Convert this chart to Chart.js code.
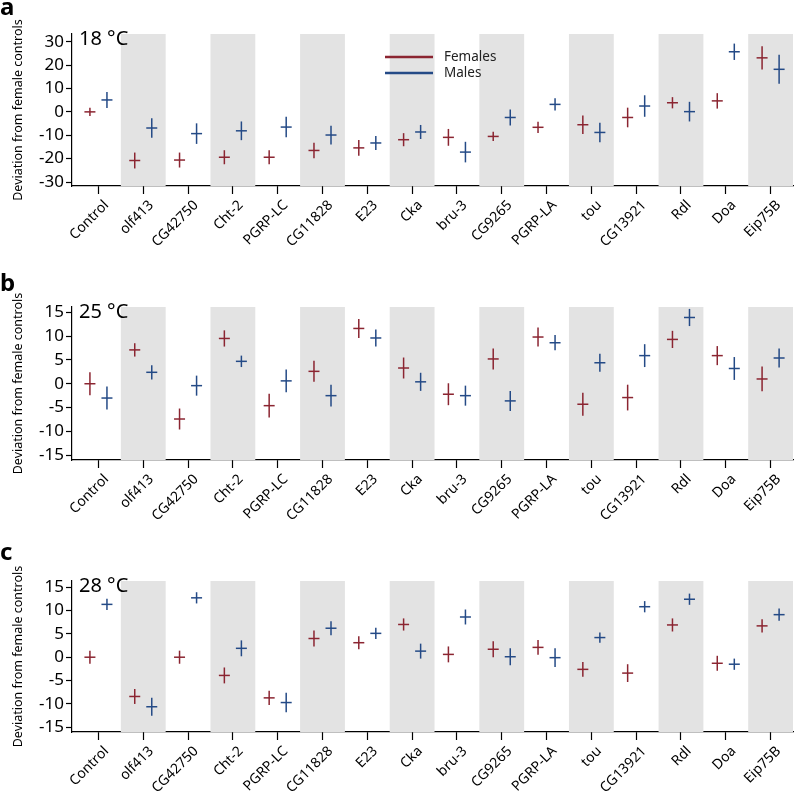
<!DOCTYPE html>
<html>
<head>
<meta charset="utf-8">
<script src="https://cdn.jsdelivr.net/npm/chart.js@4/dist/chart.umd.min.js"></script>
<style>
  body { margin: 0; background: #fff; }
  .panel { position: absolute; left: 0; width: 800px; }
</style>
</head>
<body>
<div class="panel" style="top:0px;height:270px"><canvas id="chartA"></canvas></div>
<div class="panel" style="top:255px;height:285px"><canvas id="chartB"></canvas></div>
<div class="panel" style="top:515px;height:276px"><canvas id="chartC"></canvas></div>
<script>
// genes on the x axis
const genes = ['Control', 'olf413', 'CG42750', 'Cht-2', 'PGRP-LC', 'CG11828', 'E23', 'Cka',
  'bru-3', 'CG9265', 'PGRP-LA', 'tou', 'CG13921', 'Rdl', 'Doa', 'Eip75B'];

// 18 °C
const fem18 = [0, -20.8, -20.6, -19.4, -19.4, -16.5, -15.4, -11.9, -10.9, -10.5, -6.6, -5.5, -2.4, 3.9, 4.7, 23.1];
const femErr18 = [1.8, 3.4, 3.2, 3.0, 3.0, 3.3, 3.4, 2.8, 3.6, 2.0, 2.4, 4.0, 4.2, 2.4, 3.3, 5.0];
const male18 = [5.1, -6.9, -9.3, -8.1, -6.5, -9.9, -13.3, -8.6, -17.2, -2.4, 3.2, -8.8, 2.5, 0.1, 25.7, 18.2];
const maleErr18 = [3.4, 4.2, 4.4, 4.0, 4.4, 4.0, 3.0, 3.0, 4.4, 3.4, 2.6, 4.2, 4.6, 4.2, 3.5, 6.2];

// 25 °C
const fem25 = [0, 7.1, -7.4, 9.5, -4.6, 2.6, 11.6, 3.3, -2.2, 5.2, 9.8, -4.3, -2.9, 9.3, 5.9, 1.0];
const femErr25 = [2.4, 1.4, 2.2, 1.7, 2.5, 2.2, 2.0, 2.2, 2.3, 2.2, 2.0, 2.4, 2.7, 1.8, 2.0, 2.6];
const male25 = [-3.0, 2.4, -0.4, 4.7, 0.6, -2.5, 9.6, 0.4, -2.5, -3.6, 8.6, 4.4, 5.9, 13.9, 3.2, 5.4];
const maleErr25 = [2.4, 1.5, 2.1, 1.2, 2.4, 2.3, 1.8, 1.9, 2.1, 2.1, 1.6, 1.9, 2.4, 1.8, 2.4, 2.0];

// 28 °C
const fem28 = [0, -8.4, 0, -3.9, -8.7, 4.0, 3.1, 7.0, 0.6, 1.7, 2.1, -2.6, -3.4, 6.9, -1.3, 6.7];
const femErr28 = [1.4, 1.6, 1.4, 1.7, 1.5, 1.7, 1.4, 1.3, 1.7, 1.7, 1.6, 1.6, 1.9, 1.4, 1.6, 1.4];
const male28 = [11.3, -10.6, 12.7, 1.9, -9.7, 6.2, 5.1, 1.3, 8.6, 0.1, -0.1, 4.2, 10.8, 12.4, -1.5, 9.1];
const maleErr28 = [1.2, 1.9, 1.2, 1.7, 2.1, 1.5, 1.2, 1.6, 1.6, 1.8, 2.0, 1.1, 1.2, 1.2, 1.2, 1.3];

const yTicks18 = [30, 20, 10, 0, -10, -20, -30];
const yTicks25 = [15, 10, 5, 0, -5, -10, -15];

const femColor = '#8b2531';
const maleColor = '#244a86';
const font = '"Noto Sans", "Open Sans", sans-serif';

// серые полосы под каждым вторым геном
const bandsPlugin = {
  id: 'bands',
  beforeDatasetsDraw(chart) {
    const { ctx, chartArea, scales } = chart;
    ctx.save();
    ctx.fillStyle = '#e3e3e3';
    for (let i = 1; i < genes.length; i += 2) {
      const x1 = scales.x.getPixelForValue(i - 0.5);
      const x2 = scales.x.getPixelForValue(i + 0.5);
      ctx.fillRect(x1, chartArea.top, x2 - x1, chartArea.bottom - chartArea.top);
    }
    ctx.restore();
  }
};

// вертикальные планки погрешностей
const errPlugin = {
  id: 'errbars',
  afterDatasetsDraw(chart) {
    const { ctx, scales } = chart;
    ctx.save();
    chart.data.datasets.forEach(ds => {
      ctx.strokeStyle = ds.borderColor;
      ctx.lineWidth = 1.5;
      ds.data.forEach((p, i) => {
        const x = scales.x.getPixelForValue(p.x);
        ctx.beginPath();
        ctx.moveTo(x, scales.y.getPixelForValue(p.y + ds.err[i]));
        ctx.lineTo(x, scales.y.getPixelForValue(p.y - ds.err[i]));
        ctx.stroke();
      });
    });
    ctx.restore();
  }
};

// подписи: буква панели, температура, легенда
const textPlugin = {
  id: 'texts',
  afterDraw(chart, args, opts) {
    const { ctx, chartArea } = chart;
    ctx.save();
    ctx.fillStyle = '#000';
    ctx.font = 'bold 24px ' + font;
    ctx.textBaseline = 'alphabetic';
    ctx.fillText(opts.letter, 0, chartArea.top - opts.letterDy);
    ctx.font = '20px ' + font;
    ctx.fillText(opts.temp, chartArea.left + 7, chartArea.top + 11);
    if (opts.legend) {
      ctx.font = '13.5px ' + font;
      ctx.textBaseline = 'middle';
      chart.data.datasets.forEach((ds, k) => {
        const y = 57 + k * 16;
        ctx.strokeStyle = ds.borderColor;
        ctx.lineWidth = 2.5;
        ctx.beginPath();
        ctx.moveTo(385, y);
        ctx.lineTo(433, y);
        ctx.stroke();
        ctx.fillStyle = '#222';
        ctx.fillText(ds.label, 444, y);
      });
    }
    ctx.restore();
  }
};

function makeChart(id, p) {
  const pts = (vals, dx) => vals.map((v, i) => ({ x: i + dx, y: v }));
  new Chart(document.getElementById(id), {
    type: 'scatter',
    data: {
      datasets: [
        { label: 'Females', data: pts(p.fem, -0.19), err: p.femErr, borderColor: femColor, backgroundColor: femColor },
        { label: 'Males', data: pts(p.male, 0.19), err: p.maleErr, borderColor: maleColor, backgroundColor: maleColor }
      ]
    },
    options: {
      responsive: true,
      maintainAspectRatio: false,
      animation: false,
      events: [],
      layout: { padding: { top: p.top, right: 4, left: 0, bottom: 0 } },
      elements: { point: { pointStyle: 'line', radius: 5.5, borderWidth: 1.5 } },
      plugins: {
        legend: { display: false },
        tooltip: { enabled: false },
        texts: { letter: p.letter, letterDy: p.letterDy, temp: p.temp, legend: p.legend }
      },
      scales: {
        x: {
          type: 'linear',
          min: -0.59,
          max: 15.5,
          afterBuildTicks: s => { s.ticks = genes.map((g, i) => ({ value: i })); },
          afterFit: s => { s.height = p.xHeight; },
          grid: { drawOnChartArea: false, tickLength: 8, color: '#000', tickWidth: 1.2 },
          border: { color: '#000', width: 1.2 },
          ticks: {
            autoSkip: false,
            minRotation: 45,
            maxRotation: 45,
            padding: 3,
            labelOffset: 8,
            color: '#000',
            font: { family: font, size: 14 },
            callback: v => genes[v]
          }
        },
        y: {
          min: p.yMin,
          max: p.yMax,
          afterBuildTicks: s => { s.ticks = p.yTicks.map(v => ({ value: v })); },
          afterFit: s => { s.width = 72; },
          grid: { drawOnChartArea: false, tickLength: 6, color: '#000', tickWidth: 1.2 },
          border: { color: '#000', width: 1.2 },
          ticks: { padding: 2, color: '#000', font: { family: font, size: 17 } },
          title: {
            display: true,
            text: 'Deviation from female controls',
            color: '#000',
            padding: { top: 11, bottom: 0 },
            font: { family: font, size: 12.5 }
          }
        }
      }
    },
    plugins: [bandsPlugin, errPlugin, textPlugin]
  });
}

document.addEventListener('DOMContentLoaded', () => {
  makeChart('chartA', { fem: fem18, femErr: femErr18, male: male18, maleErr: maleErr18,
    yMin: -31.7, yMax: 33.3, yTicks: yTicks18, top: 34, xHeight: 270 - 186,
    letter: 'a', letterDy: 19, temp: '18 °C', legend: true });
  makeChart('chartB', { fem: fem25, femErr: femErr25, male: male25, maleErr: maleErr25,
    yMin: -16, yMax: 16.1, yTicks: yTicks25, top: 52, xHeight: 540 - 460,
    letter: 'b', letterDy: 16, temp: '25 °C', legend: false });
  makeChart('chartC', { fem: fem28, femErr: femErr28, male: male28, maleErr: maleErr28,
    yMin: -16, yMax: 16.3, yTicks: yTicks25, top: 66, xHeight: 791 - 732,
    letter: 'c', letterDy: 21, temp: '28 °C', legend: false });
});
</script>
</body>
</html>
